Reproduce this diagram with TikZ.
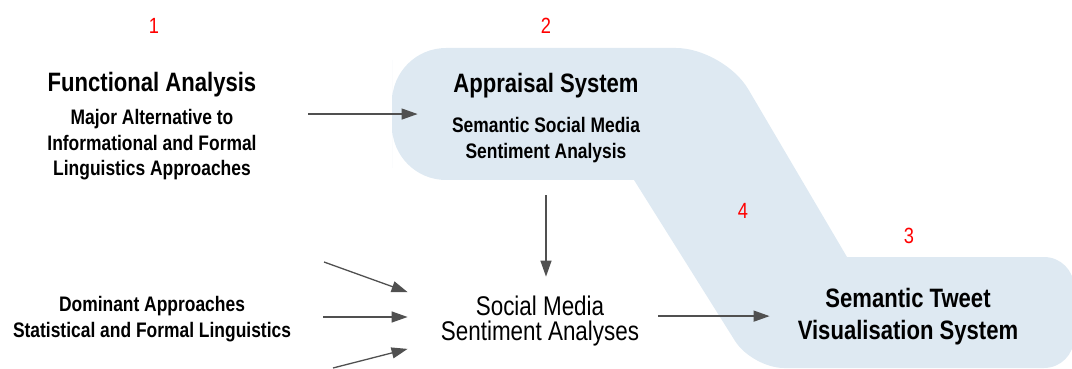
\documentclass[tikz,border=0pt]{standalone}
\usepackage{fontspec}
\setmainfont{Liberation Sans}[FakeStretch=0.83]
\usetikzlibrary{arrows.meta}
\definecolor{paleblue}{RGB}{222,233,242}
\definecolor{arrowgray}{RGB}{80,80,80}
\tikzset{
  arr/.style={line width=0.65pt, arrowgray, -{Triangle[length=8pt,width=5.5pt]}},
  numlabel/.style={red, inner sep=0pt, anchor=base, font=\fontsize{11}{13}\selectfont},
  block/.style={inner sep=0pt, anchor=base, align=center},
}
\begin{document}
\begin{tikzpicture}[x=0.5pt, y=-0.5pt]
		\useasboundingbox (0,0) rectangle (1072,369);
		
		% BACKGROUND SHAPE
		\fill[paleblue] (392,114) [rounded corners=27pt] -- (392,48) [rounded corners=24pt] -- (724,48) [sharp corners] -- (847,257) [rounded corners=15pt] -- (1074,257) -- (1074,368) [rounded corners=16pt] -- (752,368) [sharp corners] -- (634,180) [rounded corners=27pt] -- (392,180) -- cycle;
		
		% WRITE THE NUMBERS
		\node[numlabel] (one) at (154,33.5) {1};
		\node[numlabel] (two) at (546,34) {2};
		\node[numlabel] (three) at (909,243) {3};
		\node[numlabel] (four) at (743,219) {4};
		
		% WRITE THE TEXT BLOCKS (base = last line)
		\node[block, minimum width=156pt, font=\fontsize{10.5}{12.75}\selectfont\bfseries] (func) at (152,176) {{\fontsize{13.3}{13}\selectfont Functional Analysis}\\[3.75pt] Major Alternative to\\Informational and Formal\\Linguistics Approaches};
		\node[block, minimum width=128pt, font=\fontsize{10.5}{13}\selectfont\bfseries] (apr) at (546,159) {{\fontsize{13.3}{13}\selectfont Appraisal System}\\[7pt] Semantic Social Media\\Sentiment Analysis};
		\node[block, minimum width=132pt, minimum height=28pt, font=\fontsize{13.5}{12.5}\selectfont] (smsa) at (540,340) {Social Media\\Sentiment Analyses};
		\node[block, minimum width=138pt, font=\fontsize{13.3}{16}\selectfont\bfseries] (stvs) at (908,339) {Semantic Tweet\\Visualisation System};
		\node[block, font=\fontsize{10.5}{13}\selectfont\bfseries] (dom) at (152,337) {Dominant Approaches\\Statistical and Formal Linguistics};
		
		% FREE ARROW ENDS
		\coordinate (d1) at (324,262);
		\coordinate (d2) at (323,317);
		\coordinate (d3) at (333,368);
		
		% DRAW THE ARROWS
		\draw[arr] ([yshift=2.25pt]func.east |- apr.west) -- ([yshift=2.25pt]apr.west);
		\draw[arr, shorten <=15.75pt, shorten >=7.75pt] (apr.south) -- (apr.south |- smsa.north);
		\draw[arr, shorten <=-7pt] (smsa.east |- stvs.west) -- (stvs.west);
		\draw[arr] (d1) -- (smsa.north west);
		\draw[arr] (d2) -- (d2 -| smsa.west);
		\draw[arr] (d3) -- (smsa.south west);
	\end{tikzpicture}
\end{document}
